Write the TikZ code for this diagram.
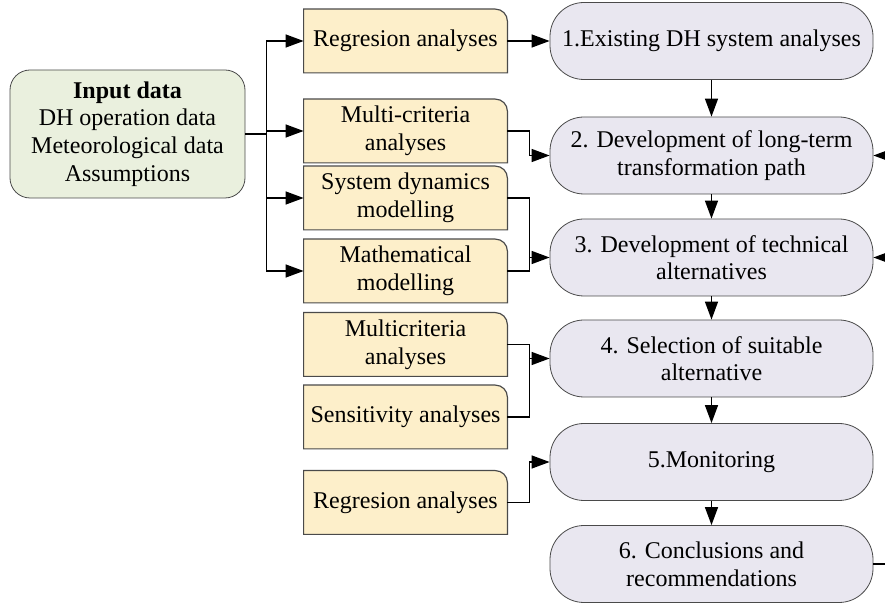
\documentclass[tikz,border=0pt]{standalone}
\usepackage{fontspec}
\setmainfont{Liberation Serif}
\usetikzlibrary{arrows.meta, backgrounds}
\definecolor{inputfill}{HTML}{EAF0DE}
\definecolor{methfill}{HTML}{FDEFCA}
\definecolor{stagefill}{HTML}{E9E7F0}
\definecolor{edgegray}{HTML}{4A4A4A}

\begin{document}
\begin{tikzpicture}[
      >={Triangle[length=9pt, width=6.5pt]},
      x=0.5pt, y=-0.5pt,
      every node/.style={font=\fontsize{12}{13.8}\selectfont},
      inbox/.style={draw=edgegray, fill=inputfill, rounded corners=10pt, minimum width=117.5pt, minimum height=64pt, align=center, inner sep=2pt},
      methbox/.style={minimum width=101.5pt, minimum height=31.5pt, align=center, inner sep=1pt},
      stagebox/.style={draw=edgegray, fill=stagefill, rounded corners=17pt, minimum width=161.5pt, minimum height=38.5pt, align=center, inner sep=2pt},
      lnk/.style={line width=0.7pt}
    ]
    \useasboundingbox (0,0) rectangle (885,604);

    % Dati di ingresso
    \node[inbox] (in) at (127.5,134) {\textbf{Input data}\\DH operation data\\Meteorological data\\Assumptions};

    % Metodi
    \node[methbox] (r1) at (405.5,41) {Regresion analyses};
    \node[methbox] (mc) at (405.5,131) {Multi-criteria\\analyses};
    \node[methbox] (sd) at (405.5,198) {System dynamics\\modelling};
    \node[methbox] (mm) at (405.5,271) {Mathematical\\modelling};
    \node[methbox] (mc2) at (405.5,344.5) {Multicriteria\\analyses};
    \node[methbox] (sa) at (405.5,417) {Sensitivity analyses};
    \node[methbox] (r2) at (405.5,502.5) {Regresion analyses};

    % Contorno dei metodi: solo l'angolo in alto a destra arrotondato
    \begin{scope}[on background layer]
      \foreach \m in {r1,mc,sd,mm,mc2,sa,r2}
        \draw[draw=edgegray, fill=methfill, line width=0.6pt] (\m.south west) -- (\m.north west) -- ([xshift=-6pt]\m.north east) to[out=0, in=90] ([yshift=-6pt]\m.north east) -- (\m.south east) -- cycle;
    \end{scope}

    % Fasi
    \node[stagebox] (s1) at (711.5,41) {1.Existing DH system analyses};
    \node[stagebox] (s2) at (711.5,155.5) {2. Development of long-term\\transformation path};
    \node[stagebox] (s3) at (711.5,257.5) {3. Development of technical\\alternatives};
    \node[stagebox] (s4) at (711.5,358.5) {4. Selection of suitable\\alternative};
    \node[stagebox] (s5) at (711.5,462) {5.Monitoring};
    \node[stagebox] (s6) at (711.5,564) {6. Conclusions and\\recommendations};

    % Ingresso -> metodi
    \foreach \t in {r1,mc,sd,mm}
      \draw[lnk, ->] (in.east) -- ++(10.5pt,0) |- (\t.west);

    % Metodi -> fasi
    \draw[lnk, ->] (r1.east) -- (r1.east -| s1.west);
    \draw[lnk, ->] (mc.east) -- ++(11pt,0) |- (s2.west);
    \draw[lnk] (sd.east) -| ([xshift=11pt]mm.east) -- (mm.east);
    \draw[lnk, ->] ([xshift=11pt]mm.east |- s3.west) -- (s3.west);
    \draw[lnk] (mc2.east) -| ([xshift=11pt]sa.east) -- (sa.east);
    \draw[lnk, ->] ([xshift=11pt]sa.east |- s4.west) -- (s4.west);
    \draw[lnk, ->] (r2.east) -- ++(11pt,0) |- (s5.west);

    % Sequenza delle fasi
    \foreach \a/\b in {s1/s2,s2/s3,s3/s4,s4/s5,s5/s6}
      \draw[lnk, ->] (\a) -- (\b);

    % Ritorno dalla fase 6
    \coordinate (fb) at (905,564);
    \draw[lnk] (s6.east) -- (fb);
    \draw[lnk, ->] (fb) |- (s2.east);
    \draw[lnk, ->] (fb) |- (s3.east);
  \end{tikzpicture}
\end{document}
